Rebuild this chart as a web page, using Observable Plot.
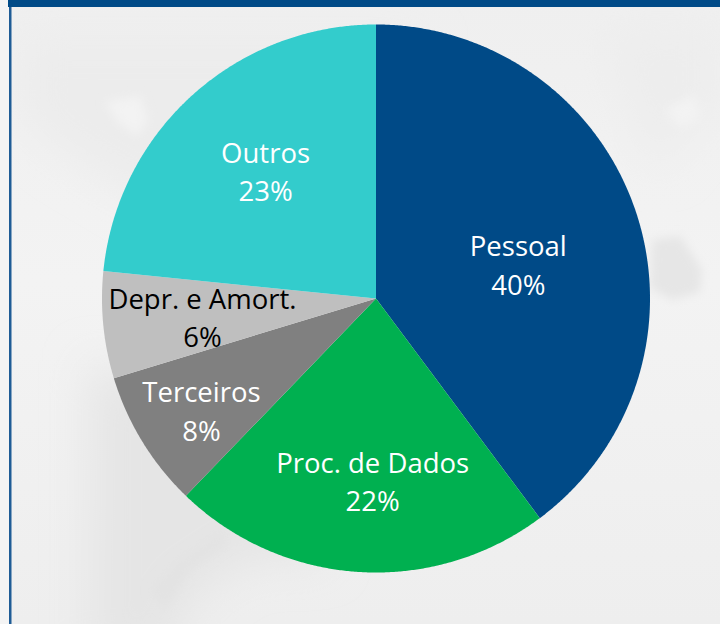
<!DOCTYPE html>
<html lang="pt">
<head>
<meta charset="utf-8">
<style>
  html, body { margin: 0; padding: 0; width: 720px; height: 624px; overflow: hidden; background: #f2f2f2; }
  #stage { position: relative; width: 720px; height: 624px; }
  #backdrop, #chart { position: absolute; left: 0; top: 0; width: 720px; height: 624px; }
</style>
<script src="https://cdn.jsdelivr.net/npm/d3@7"></script>
<script src="https://cdn.jsdelivr.net/npm/@observablehq/plot@0.6"></script>
</head>
<body>
<div id="stage">
  <svg id="backdrop" width="720" height="624" aria-hidden="true">
    <defs>
      <filter id="soft" x="-30%" y="-30%" width="160%" height="160%"><feGaussianBlur stdDeviation="5"/></filter>
      <filter id="softer" x="-30%" y="-30%" width="160%" height="160%"><feGaussianBlur stdDeviation="22"/></filter>
      <linearGradient id="wash" x1="0" y1="0" x2="0" y2="1">
        <stop offset="0" stop-color="#efefef"/><stop offset="0.45" stop-color="#f3f3f3"/><stop offset="1" stop-color="#eeeeee"/>
      </linearGradient>
    </defs>
    <rect width="720" height="624" fill="url(#wash)"/>
    <path d="M20 40H420V70L250 240L170 215L60 150L20 110Z" fill="#ececec" filter="url(#softer)"/>
    <path d="M105 102L140 96L148 120L137 136L118 122Z" fill="#f3f3f3" filter="url(#soft)"/>
    <path d="M90 360L240 420L330 560L250 560L190 600L170 660H90Z" fill="#e5e5e5" filter="url(#softer)"/>
    <path d="M150 590L178 560L222 530L226 545L190 570L165 610Z" fill="#e3e3e3" filter="url(#soft)"/>
    <path d="M652 240L680 236L702 270L700 292L672 300L650 288Z" fill="#e6e6e6" filter="url(#soft)"/>
    <path d="M600 30H720V100L690 130L660 170L640 150L620 80Z" fill="#ededed" filter="url(#softer)"/>
    <path d="M665 110L695 95L700 118L680 128Z" fill="#f3f3f3" filter="url(#soft)"/>
    <rect x="0" y="0" width="9" height="624" fill="#f4f4f4"/>
    <rect x="9" y="0" width="2.5" height="624" fill="#1f5c96"/>
    <rect x="8" y="0" width="712" height="7" fill="#004a87"/>
  </svg>
  <div id="chart"></div>
</div>
<script>
// Chart data
const categories = ["Pessoal", "Proc. de Dados", "Terceiros", "Depr. e Amort.", "Outros"];
const shares = [39.8, 22.4, 8.1, 6.3, 23.4];

// Styling, kept apart from the data
const sliceColors = ["#004a87", "#00b050", "#808080", "#bfbfbf", "#33cccc"];
const labelInks = ["#ffffff", "#ffffff", "#ffffff", "#000000", "#ffffff"];
// Label placement inside each slice: fraction of the radius and turn away from the slice's middle (radians)
const labelReach = [0.536, 0.673, 0.757, 0.634, 0.609];
const labelTurn = [0.10, -0.05, -0.03, -0.02, 0.02];

const arcs = d3.pie().sort(null)(shares);
const onCircle = (angle, r = 1) => [r * Math.sin(angle), -r * Math.cos(angle)];

const slices = categories.map((name, i) => {
  const { startAngle, endAngle } = arcs[i];
  const steps = Math.ceil((endAngle - startAngle) / 0.006);
  const rim = d3.range(steps + 1).map(k => onCircle(startAngle + (endAngle - startAngle) * k / steps));
  return {
    name,
    label: `${name}\n${Math.round(shares[i])}%`,
    ink: labelInks[i],
    at: onCircle((startAngle + endAngle) / 2 + labelTurn[i], labelReach[i]),
    geometry: { type: "Polygon", coordinates: [[[0, 0], ...rim, [0, 0]]] }
  };
});

const chart = Plot.plot({
  width: 720,
  height: 624,
  margin: 0,
  style: { background: "transparent" },
  projection: d3.geoIdentity().scale(274).translate([375.5, 298]),
  color: { type: "ordinal", domain: categories, range: sliceColors },
  marks: [
    Plot.geo(slices, { geometry: d => d.geometry, fill: d => d.name }),
    Plot.text(slices, {
      x: d => d.at[0],
      y: d => d.at[1],
      text: d => d.label,
      fill: { value: d => d.ink, scale: null },
      fontFamily: "'Open Sans', sans-serif",
      fontSize: 27.5,
      lineHeight: 1.4,
      dx: -1,
      dy: -3
    })
  ]
});
document.getElementById("chart").append(chart);
</script>
</body>
</html>
